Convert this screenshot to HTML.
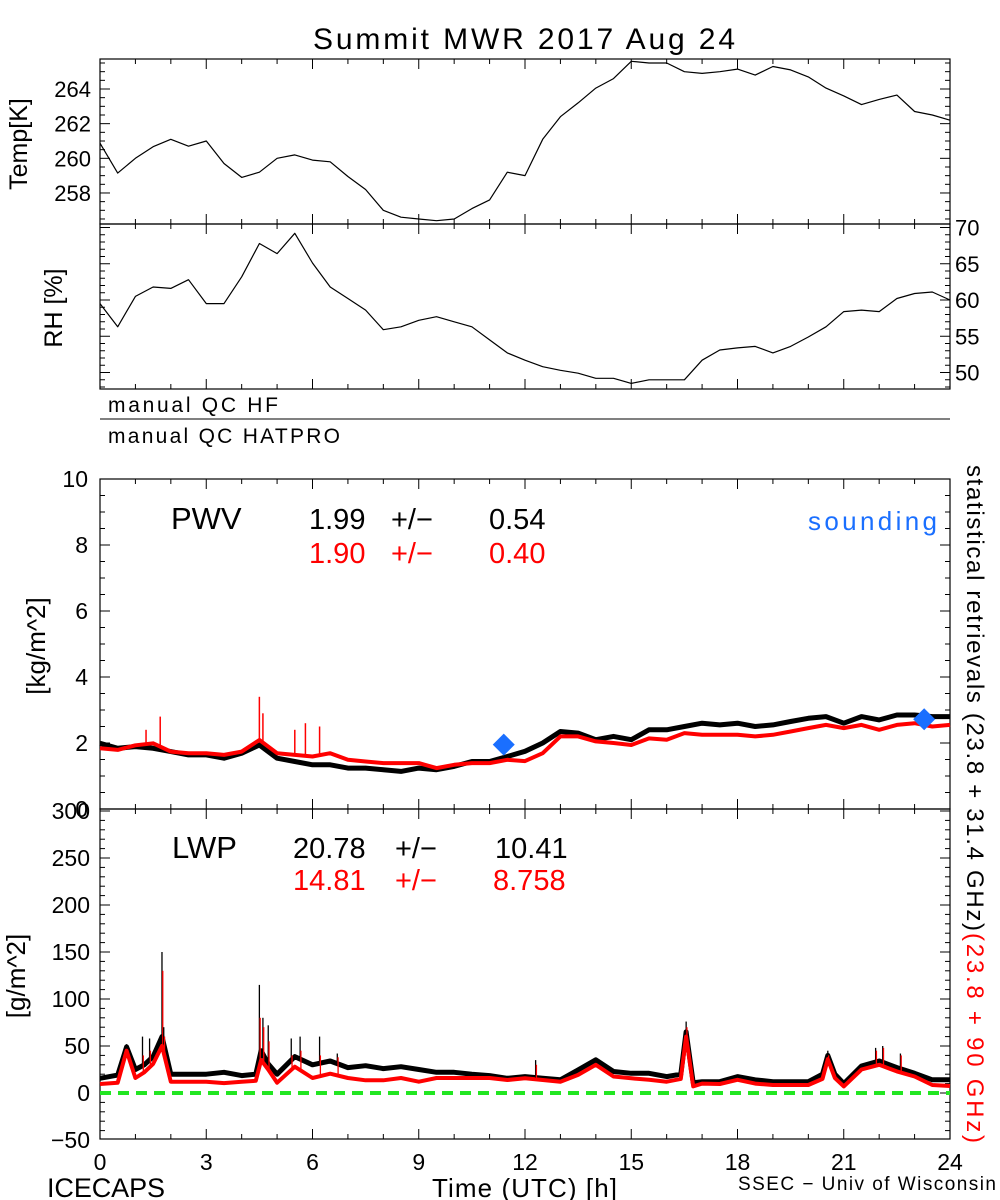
<!DOCTYPE html>
<html><head><meta charset="utf-8"><style>
html,body{margin:0;padding:0;background:#fff;}
svg{display:block;font-family:"Liberation Sans","DejaVu Sans",sans-serif;}
</style></head><body>
<svg id="chart" width="1000" height="1200" viewBox="0 0 1000 1200" xmlns="http://www.w3.org/2000/svg">
<rect width="1000" height="1200" fill="#fff"/>
<text x="313" y="49" font-size="30" textLength="422">Summit MWR 2017 Aug 24</text>
<g id="axes"></g>
<g id="marks"></g>
<text transform="translate(27,144) rotate(-90)" text-anchor="middle" font-size="25">Temp[K]</text>
<text transform="translate(62,308) rotate(-90)" text-anchor="middle" font-size="25">RH [%]</text>
<text x="108" y="412" font-size="21" textLength="170">manual QC HF</text>
<line x1="100" y1="419" x2="950" y2="419" stroke="#000" stroke-width="1"/>
<text x="108" y="443" font-size="21" textLength="232">manual QC HATPRO</text>
<text transform="translate(45,646) rotate(-90)" text-anchor="middle" font-size="26">[kg/m^2]</text>
<text transform="translate(25,976) rotate(-90)" text-anchor="middle" font-size="26">[g/m^2]</text>
<text x="171" y="529" font-size="31">PWV</text>
<text x="309" y="529" font-size="29">1.99</text>
<text x="391" y="529" font-size="29">+/−</text>
<text x="489" y="529" font-size="29">0.54</text>
<text x="309" y="563" font-size="29" fill="#ff0000">1.90</text>
<text x="391" y="563" font-size="29" fill="#ff0000">+/−</text>
<text x="489" y="563" font-size="29" fill="#ff0000">0.40</text>
<text x="808" y="530" font-size="26" fill="#1a6fff" textLength="129">sounding</text>
<text x="172" y="858" font-size="31">LWP</text>
<text x="293" y="858" font-size="29">20.78</text>
<text x="395" y="858" font-size="29">+/−</text>
<text x="495" y="858" font-size="29">10.41</text>
<text x="293" y="890" font-size="29" fill="#ff0000">14.81</text>
<text x="395" y="890" font-size="29" fill="#ff0000">+/−</text>
<text x="493" y="890" font-size="29" fill="#ff0000">8.758</text>
<text transform="translate(967,465) rotate(90)" font-size="24" textLength="466">statistical retrievals (23.8 + 31.4 GHz)</text>
<text transform="translate(967,933) rotate(90)" font-size="24" fill="#ff0000" textLength="210">(23.8 + 90 GHz)</text>
<text x="47" y="1197" font-size="27" textLength="118">ICECAPS</text>
<text x="432" y="1197" font-size="26" textLength="185">Time (UTC) [h]</text>
<text x="738" y="1190" font-size="19" textLength="258">SSEC − Univ of Wisconsin</text>
</svg>
<script>
// ---- data ----
const halfHours = [0,0.5,1,1.5,2,2.5,3,3.5,4,4.5,5,5.5,6,6.5,7,7.5,8,8.5,9,9.5,10,10.5,11,11.5,12,12.5,13,13.5,14,14.5,15,15.5,16,16.5,17,17.5,18,18.5,19,19.5,20,20.5,21,21.5,22,22.5,23,23.5,24];
const tempK = [260.87,259.15,260.0,260.67,261.1,260.7,261.0,259.7,258.9,259.2,260.0,260.2,259.9,259.8,258.95,258.2,257.0,256.6,256.5,256.4,256.5,257.1,257.6,259.2,259.0,261.1,262.4,263.2,264.05,264.6,265.6,265.5,265.5,265.0,264.9,265.0,265.15,264.8,265.3,265.1,264.7,264.05,263.6,263.1,263.4,263.65,262.7,262.5,262.2];
const rhPct = [59.5,56.3,60.5,61.8,61.6,62.8,59.5,59.5,63.2,67.8,66.4,69.2,65.1,61.8,60.2,58.6,55.9,56.3,57.2,57.7,57.0,56.3,54.5,52.7,51.7,50.8,50.3,49.9,49.2,49.2,48.5,49.0,49.0,49.0,51.7,53.1,53.4,53.6,52.7,53.6,54.9,56.3,58.4,58.6,58.4,60.2,60.9,61.1,60.0];
const pwvBlack = [1.99,1.84,1.89,1.84,1.74,1.64,1.64,1.54,1.69,1.94,1.54,1.44,1.34,1.34,1.24,1.24,1.19,1.14,1.24,1.19,1.29,1.44,1.44,1.59,1.75,2.0,2.35,2.3,2.1,2.2,2.1,2.4,2.4,2.5,2.6,2.55,2.6,2.5,2.55,2.65,2.75,2.8,2.6,2.8,2.7,2.85,2.85,2.8,2.8];
const pwvRed = [1.84,1.79,1.93,1.99,1.74,1.69,1.69,1.64,1.74,2.09,1.69,1.64,1.59,1.69,1.49,1.44,1.39,1.39,1.39,1.24,1.34,1.39,1.39,1.49,1.45,1.69,2.2,2.2,2.05,2.0,1.94,2.14,2.1,2.3,2.25,2.25,2.25,2.2,2.25,2.35,2.45,2.55,2.45,2.55,2.4,2.55,2.6,2.5,2.55];
const pwvSpikeTimes = [1.3,1.7,4.5,4.6,5.5,5.8,6.2];
const pwvSpikeTops = [2.4,2.8,3.4,2.9,2.4,2.6,2.5];
const soundingTimes = [11.4,23.27];
const soundingPwv = [1.95,2.72];
const lwpTimes = [0,0.5,0.75,1,1.25,1.5,1.75,2,2.5,3,3.5,4,4.4,4.55,4.75,5,5.5,6,6.5,7,7.5,8,8.5,9,9.5,10,10.5,11,11.5,12,12.5,13,13.5,14,14.5,15,15.5,16,16.4,16.55,16.75,17,17.5,18,18.5,19,19.5,20,20.4,20.55,20.75,21,21.5,22,22.5,23,23.5,24];
const lwpBlack = [15.6,19,49,25,30,38.7,60,20,20,20,22,18.5,20,45,31,20,38.7,30,34,27,29,26,28,25,22,22,20,18.5,15.6,17.4,15.6,14,24.6,35.3,22.9,21,21,17.4,20,65,11,12,12,17.4,14,12,12,12,20,40,20,10,28.7,34,27,21,14,14];
const lwpRed = [9.6,11,45,16,22,31,50,12,12,12,10.5,12,13,35,25,11,28,16,20.5,16,13.5,13.5,16,12,16,16,16,16,13.8,15.6,13.8,12,19.3,30,17.6,15.6,14,12,15,60,7,10,9.6,14,10,8.5,8.5,8.5,15,36,16,7,25,30,23,17.6,8.5,7.5];
const lwpSpikeTimes = [0.75,1.2,1.4,1.75,1.8,4.5,4.6,4.75,5.4,5.65,6.2,6.7,12.3,16.55,20.55,21.9,22.1,22.6];
const lwpSpikeBlack = [52,60,58,150,70,115,80,72,58,60,60,42,35,76,45,48,50,42];
const lwpSpikeRed = [45,40,45,130,60,80,70,55,40,45,40,38,30,70,40,45,48,40];
const xTickLabels = [0,3,6,9,12,15,18,21,24];
const tempTickLabels = [258,260,262,264];
const rhTickLabels = [50,55,60,65,70];
const pwvTickLabels = [0,2,4,6,8,10];
const lwpTickLabels = [-50,0,50,100,150,200,250,300];

// ---- scales ----
const X0=100, X1=950;
const X = t => X0 + t*(X1-X0)/24;
const yT = v => 89 - (v-264)*17.33;
const yR = v => 300 - (v-60)*7.25;
const yP = v => 809 - v*33;
const yL = v => 1093 - v*0.94;
const NS='http://www.w3.org/2000/svg';
const axes=document.getElementById('axes'), marks=document.getElementById('marks');
function mk(tag, attrs, parent){const e=document.createElementNS(NS,tag);for(const k in attrs)e.setAttribute(k,attrs[k]);parent.appendChild(e);return e;}
function interp(ts, vs, t){for(let i=1;i<ts.length;i++){if(t<=ts[i]){const f=(t-ts[i-1])/(ts[i]-ts[i-1]);return vs[i-1]+f*(vs[i]-vs[i-1]);}}return vs[vs.length-1];}

const panels=[['temp-panel-frame',59,224],['rh-panel-frame',224,389],['pwv-panel-frame',479,809],['lwp-panel-frame',809,1139]];
panels.forEach(p=>{
  const r=mk('rect',{x:X0,y:p[1],width:X1-X0,height:p[2]-p[1],fill:'none',stroke:'#000','stroke-width':1.2},axes);
  
  
  for(let h=0;h<=24;h++){
    const L=(h%3===0)?10:5;
    const x=X(h);
    const a=mk('line',{x1:x,y1:p[1],x2:x,y2:p[1]+L,stroke:'#000','stroke-width':1},axes);
    
    
    const b=mk('line',{x1:x,y1:p[2],x2:x,y2:p[2]-L,stroke:'#000','stroke-width':1},axes);
    
    
  }
});
function yTicks(scale, lo, hi, step, major, side, top, bot){
  for(let v=lo; v<=hi+1e-9; v+=step){
    const y=scale(v); if(y<top-0.5||y>bot+0.5) continue;
    const isMaj=Math.abs(v/major-Math.round(v/major))<1e-6;
    const L=isMaj?10:5;
    const xa= side==='left'?X0:X1, xb= side==='left'?X0+L:X1-L;
    const t=mk('line',{x1:xa,y1:y,x2:xb,y2:y,stroke:'#000','stroke-width':1},axes);
    
    
  }
}
yTicks(yT,256,266,0.5,2,'left',59,224); yTicks(yT,256,266,0.5,2,'right',59,224);
yTicks(yR,48,71,1,5,'left',224,389); yTicks(yR,48,71,1,5,'right',224,389);
yTicks(yP,0,10,0.5,2,'left',479,809); yTicks(yP,0,10,0.5,2,'right',479,809);
yTicks(yL,-50,300,10,50,'left',809,1139); yTicks(yL,-50,300,10,50,'right',809,1139);

function label(x,y,txt,anchor,size,name){
  const t=mk('text',{x:x,y:y,'text-anchor':anchor,'font-size':size},axes);
  t.textContent=txt;
  
  
}
tempTickLabels.forEach(v=>label(91,yT(v)+8,String(v),'end',22,'temp-tick-label'));
rhTickLabels.forEach(v=>label(955,yR(v)+8,String(v),'start',22,'rh-tick-label'));
pwvTickLabels.forEach(v=>label(88,yP(v)+8,String(v),'end',23,'pwv-tick-label'));
lwpTickLabels.forEach(v=>label(90,yL(v)+8,(v<0?'−'+(-v):String(v)),'end',23,'lwp-tick-label'));
xTickLabels.forEach(v=>label(X(v),1170,String(v),'middle',23,'x-tick-label'));

function series(ts, vs, scale, color, w, name){
  const d=ts.map((t,i)=>(i?'L':'M')+X(t).toFixed(1)+','+scale(vs[i]).toFixed(1)).join('');
  const p=mk('path',{d:d,fill:'none',stroke:color,'stroke-width':w,'stroke-linejoin':'round'},marks);
  
  
}
series(halfHours,tempK,yT,'#000',1.2,'temperature-line');
series(halfHours,rhPct,yR,'#000',1.2,'rh-line');
series(halfHours,pwvBlack,yP,'#000',5,'pwv-hf-line');
series(halfHours,pwvRed,yP,'#ff0000',4,'pwv-hatpro-line');
pwvSpikeTimes.forEach((t,i)=>{
  const s=mk('line',{x1:X(t),x2:X(t),y1:yP(interp(halfHours,pwvRed,t)),y2:yP(pwvSpikeTops[i]),stroke:'#ff0000','stroke-width':1.5},marks);
  
  
});
soundingTimes.forEach((t,i)=>{
  const cx=X(t), cy=yP(soundingPwv[i]);
  const d=mk('path',{d:`M${cx},${cy-11}L${cx+11},${cy}L${cx},${cy+11}L${cx-11},${cy}Z`,fill:'#1a6fff'},marks);
  
  
});
const zl=mk('line',{x1:X0,x2:X1,y1:yL(0),y2:yL(0),stroke:'#22e622','stroke-width':4,'stroke-dasharray':'11 7'},marks);


series(lwpTimes,lwpBlack,yL,'#000',5,'lwp-hf-line');
series(lwpTimes,lwpRed,yL,'#ff0000',4,'lwp-hatpro-line');
lwpSpikeTimes.forEach((t,i)=>{
  const b=mk('line',{x1:X(t),x2:X(t),y1:yL(interp(lwpTimes,lwpBlack,t)),y2:yL(lwpSpikeBlack[i]),stroke:'#000','stroke-width':1.3},marks);
  
  
  const r=mk('line',{x1:X(t)+0.8,x2:X(t)+0.8,y1:yL(interp(lwpTimes,lwpRed,t)),y2:yL(lwpSpikeRed[i]),stroke:'#ff0000','stroke-width':1.3},marks);
  
  
});
</script>
</body></html>
